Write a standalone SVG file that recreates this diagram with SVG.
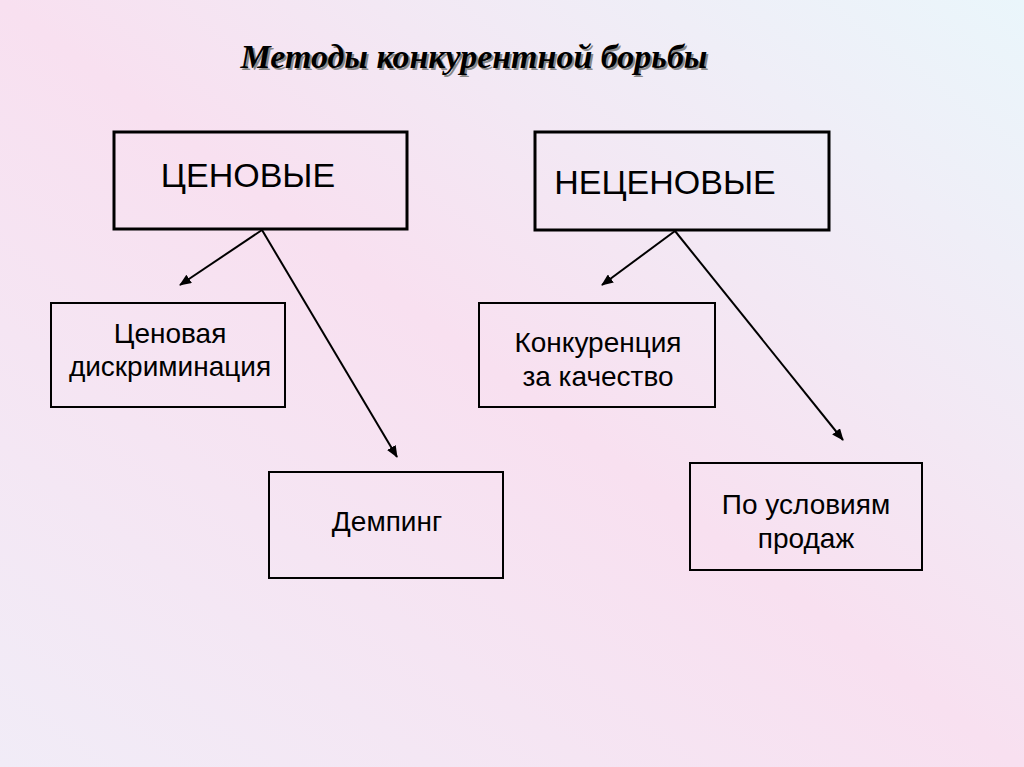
<svg xmlns="http://www.w3.org/2000/svg" width="1024" height="767" viewBox="0 0 1024 767">
<defs>
<linearGradient id="bg" x1="1" y1="0" x2="0" y2="1">
<stop offset="0" stop-color="#eaf6fb"/>
<stop offset="0.5" stop-color="#f8e0f0"/>
<stop offset="1" stop-color="#f1ecf7"/>
</linearGradient>
<marker id="arr" viewBox="0 0 12 10" refX="11" refY="5" markerWidth="12" markerHeight="10" markerUnits="userSpaceOnUse" orient="auto">
<path d="M0,0 L12,5 L0,10 z" fill="#000"/>
</marker>
</defs>
<style>
.box{fill:none;stroke:#000;stroke-width:2}
.bigbox{fill:none;stroke:#000;stroke-width:3}
.t{font-family:"Liberation Sans",Arial,sans-serif;fill:#000;text-anchor:middle}
.big{font-size:34px}
.sm{font-size:28px}
.title{font-family:"Liberation Serif","Times New Roman",serif;font-style:italic;font-weight:bold;font-size:34px}
.conn line{stroke:#000;stroke-width:2;marker-end:url(#arr)}
</style>
<rect width="1024" height="767" fill="url(#bg)"/>
<g id="title">
<text class="title" x="476" y="70" fill="#888" text-anchor="middle">Методы конкурентной борьбы</text>
<text class="title" x="474" y="68" fill="#000" text-anchor="middle">Методы конкурентной борьбы</text>
</g>
<g id="n-price">
<rect class="bigbox" x="114" y="132" width="293" height="97"/>
<text class="t big" x="248" y="187">ЦЕНОВЫЕ</text>
</g>
<g id="n-nonprice">
<rect class="bigbox" x="535" y="132" width="294" height="98"/>
<text class="t big" x="665" y="194">НЕЦЕНОВЫЕ</text>
</g>
<g id="n-discr">
<rect class="box" x="51" y="303" width="234" height="104"/>
<text class="t sm" x="170" y="343">Ценовая</text>
<text class="t sm" x="170" y="376">дискриминация</text>
</g>
<g id="n-quality">
<rect class="box" x="479" y="303" width="236" height="104"/>
<text class="t sm" x="598" y="352">Конкуренция</text>
<text class="t sm" x="598" y="386">за качество</text>
</g>
<g id="n-dumping">
<rect class="box" x="269" y="472" width="234" height="106"/>
<text class="t sm" x="387" y="531">Демпинг</text>
</g>
<g id="n-sales">
<rect class="box" x="690" y="463" width="232" height="107"/>
<text class="t sm" x="806" y="514">По условиям</text>
<text class="t sm" x="806" y="548">продаж</text>
</g>
<g id="connectors" class="conn">
<line x1="262" y1="230" x2="180" y2="285"/>
<line x1="262" y1="230" x2="397" y2="457"/>
<line x1="675" y1="231" x2="602" y2="285"/>
<line x1="675" y1="231" x2="843" y2="440"/>
</g>
</svg>
